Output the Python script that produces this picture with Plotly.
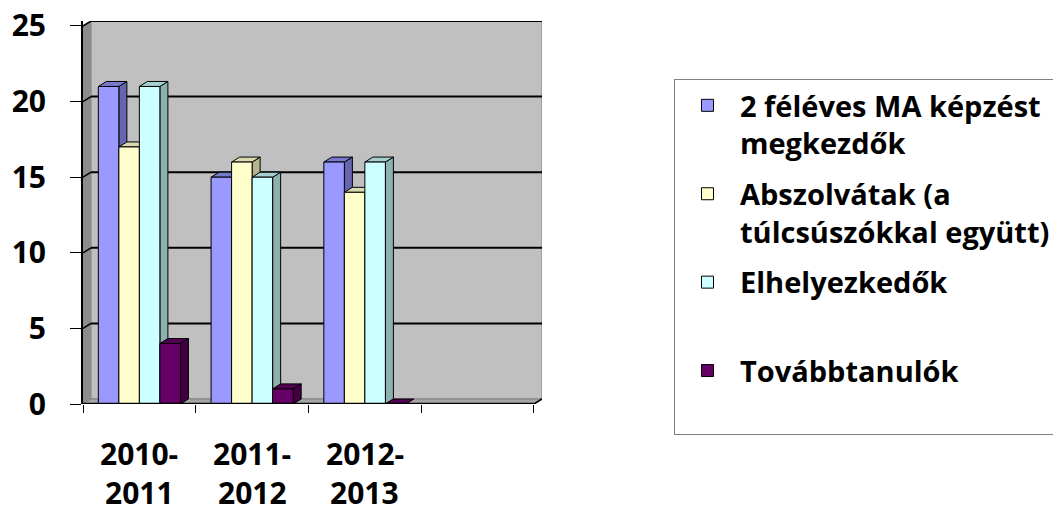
import plotly.graph_objects as go

# ---------------- data ----------------
categories = ["2010-2011", "2011-2012", "2012-2013"]
cat_line1 = ["2010-", "2011-", "2012-"]
cat_line2 = ["2011", "2012", "2013"]
series_names = [
    "2 féléves MA képzést<br>megkezdők",
    "Abszolvátak (a<br>túlcsúszókkal együtt)",
    "Elhelyezkedők<br> ",
    "Továbbtanulók<br> ",
]
starters = [21, 15, 16]
graduates = [17, 16, 14]
employed = [21, 15, 16]
further_study = [4, 1, 0]
y_ticks = [0, 5, 10, 15, 20, 25]

series_values = [starters, graduates, employed, further_study]

# ---------------- style ----------------
front_colors = ["#9999FF", "#FFFFCC", "#CCFFFF", "#660066"]
side_colors = ["#6666B0", "#B5B58F", "#8DB0B0", "#420042"]
top_colors = ["#7878CC", "#DADAB0", "#A6D0D0", "#520052"]
FONT = "Open Sans"
WEIGHT = 700
n_slots = 4
bar_w = 0.182
group_left = -0.364
DX = 0.071
DY = 0.33
YMAX = 25
x_lo = -0.5
x_hi = n_slots - 0.5

def poly(pts, fill, line_color=None, line_width=0, layer="below"):
    path = "M " + " L ".join(f"{x},{y}" for x, y in pts) + " Z"
    return dict(type="path", path=path, xref="x", yref="y", fillcolor=fill,
                line=dict(color=line_color or fill, width=line_width), layer=layer)

def seg(x0, y0, x1, y1, color="black", width=2, layer="below"):
    return dict(type="line", x0=x0, y0=y0, x1=x1, y1=y1, xref="x", yref="y",
                line=dict(color=color, width=width), layer=layer)

shapes = []
# back wall
shapes.append(poly([(x_lo + DX, DY), (x_hi + DX, DY), (x_hi + DX, YMAX + DY), (x_lo + DX, YMAX + DY)],
                   "#C0C0C0", "#808080", 1))
shapes.append(seg(x_lo + DX, YMAX + DY, x_hi + DX, YMAX + DY, "#303030", 2))
# left wall
shapes.append(poly([(x_lo, 0), (x_lo + DX, DY), (x_lo + DX, YMAX + DY), (x_lo, YMAX)], "#8C8C8C"))
# floor
shapes.append(poly([(x_lo, 0), (x_hi, 0), (x_hi + DX, DY), (x_lo + DX, DY)], "#A6A6A6", "#808080", 1))
# grid lines
for v in y_ticks[1:]:
    shapes.append(seg(x_lo + DX, v + DY, x_hi + DX, v + DY, "black", 2))
    shapes.append(seg(x_lo, v, x_lo + DX, v + DY, "black", 1.5))
shapes.append(seg(x_hi, 0, x_hi + DX, DY, "black", 1.5))

# bar depth faces: sides first, then tops
side_shapes, top_shapes = [], []
for k, vals in enumerate(series_values):
    for i, v in enumerate(vals):
        x0 = i + group_left + k * bar_w
        x1 = x0 + bar_w
        if v > 0:
            side_shapes.append(poly([(x1, 0), (x1 + DX, DY), (x1 + DX, v + DY), (x1, v)],
                                    side_colors[k], "black", 1))
        top_shapes.append(poly([(x0, v), (x1, v), (x1 + DX, v + DY), (x0 + DX, v + DY)],
                               top_colors[k], "black", 1))
shapes += side_shapes + top_shapes
# front floor edge
shapes.append(seg(x_lo, 0, x_hi, 0, "black", 2.5, layer="above"))

fig = go.Figure()
for k, vals in enumerate(series_values):
    fig.add_trace(go.Bar(
        x=list(range(len(categories))), y=vals, name=series_names[k],
        width=bar_w, offset=group_left + k * bar_w,
        marker=dict(color=front_colors[k], line=dict(color="black", width=1)),
        legendgroup=f"g{k}",
    ))

label_font = dict(family=FONT, size=30, color="black", weight=WEIGHT)
annotations = []
for i in range(len(categories)):
    annotations.append(dict(x=i, y=-0.128, xref="x", yref="paper", text=cat_line1[i],
                            showarrow=False, yanchor="middle", font=label_font))
    annotations.append(dict(x=i, y=-0.232, xref="x", yref="paper", text=cat_line2[i],
                            showarrow=False, yanchor="middle", font=label_font))

# the page body adds an 8px offset, so the figure is 8px smaller and margins shifted
fig.update_layout(
    width=1053, height=504,
    margin=dict(l=75, r=519, t=13, b=108, autoexpand=False),
    paper_bgcolor="white", plot_bgcolor="white",
    barmode="overlay",
    shapes=shapes,
    annotations=annotations,
    showlegend=True,
    legend=dict(
        x=1.2876, y=0.8486, xanchor="left", yanchor="top",
        bgcolor="white", bordercolor="#808080", borderwidth=1,
        font=dict(family=FONT, size=29, color="black", weight=WEIGHT),
        valign="top", tracegroupgap=10, itemwidth=55, entrywidth=420,
    ),
    xaxis=dict(
        range=[x_lo, x_hi + DX], tickvals=[-0.5, 0.5, 1.5, 2.5, 3.5],
        ticktext=["", "", "", "", ""], ticks="outside", ticklen=8, tickcolor="black",
        showgrid=False, zeroline=False, showline=False, fixedrange=True,
    ),
    yaxis=dict(
        range=[0, YMAX + DY], tickvals=y_ticks, ticks="outside", ticklen=11,
        tickcolor="black", tickwidth=1, ticklabelstandoff=18, ticklabeloverflow="allow",
        tickfont=dict(family=FONT, size=30, color="black", weight=WEIGHT),
        showgrid=False, zeroline=False, showline=True, linecolor="black", linewidth=2,
        fixedrange=True,
    ),
)

fig.write_html("out.html")
